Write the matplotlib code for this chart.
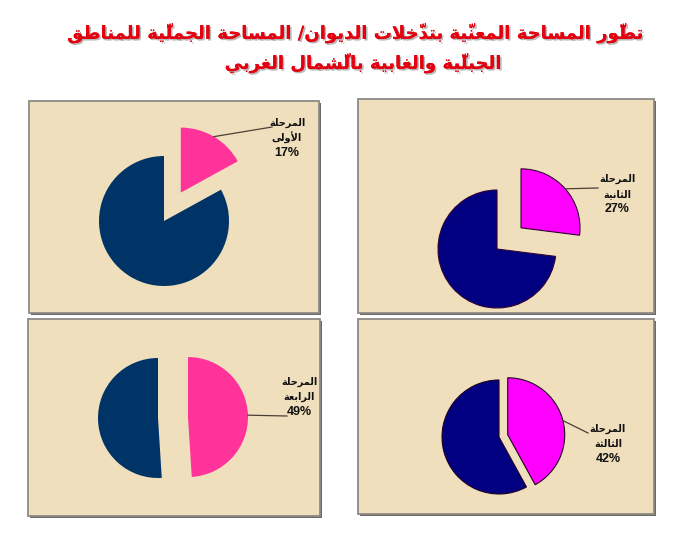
import numpy as np
import matplotlib
matplotlib.use('Agg')
import matplotlib.pyplot as plt
import matplotlib.patheffects as pe
from matplotlib.patches import Rectangle

# data
title_lines = ['تطوّر المساحة المعنيّة بتدخّلات الديوان/ المساحة الجمليّة للمناطق',
               'الجبليّة والغابية بالشّمال الغربي']
stage_first = ['المرحلة', 'المرحلة', 'المرحلة', 'المرحلة']
stage_second = ['الأولى', 'الثانية', 'الرابعة', 'الثالثة']
shares = [17, 27, 49, 42]

# styles per panel: (slice colour, rest colour, edge colour)
styles = [('#FF3399', '#003366', 'none'),
          ('#FF00FF', '#000080', '#330033'),
          ('#FF3399', '#003366', 'none'),
          ('#FF00FF', '#000080', '#220022')]

W, H = 681, 543
# panel boxes in pixels (x0, y0, x1, y1), pie centre, radius, explode
boxes = [(29, 101, 319, 313), (358, 99, 654, 313),
         (28, 319, 320, 516), (358, 319, 654, 514)]
centres = [(164, 221), (497, 249), (158, 418), (499, 437)]
radii = [65, 59, 60, 57]
explodes = [33, 32, 30, 9]
label_pos = [(287, 123), (617, 179), (299, 382), (608, 429)]
leader_end = [(272, 127), (598, 188), (287, 416), (588, 433)]

# --- minimal arabic shaping (matplotlib has no complex text layout) ---
FORMS = {
    '\u0623': ('\uFE83', '\uFE84', None, None),
    '\u0627': ('\uFE8D', '\uFE8E', None, None),
    '\u0628': ('\uFE8F', '\uFE90', '\uFE91', '\uFE92'),
    '\u0629': ('\uFE93', '\uFE94', None, None),
    '\u062A': ('\uFE95', '\uFE96', '\uFE97', '\uFE98'),
    '\u062B': ('\uFE99', '\uFE9A', '\uFE9B', '\uFE9C'),
    '\u062C': ('\uFE9D', '\uFE9E', '\uFE9F', '\uFEA0'),
    '\u062D': ('\uFEA1', '\uFEA2', '\uFEA3', '\uFEA4'),
    '\u062E': ('\uFEA5', '\uFEA6', '\uFEA7', '\uFEA8'),
    '\u062F': ('\uFEA9', '\uFEAA', None, None),
    '\u0631': ('\uFEAD', '\uFEAE', None, None),
    '\u0633': ('\uFEB1', '\uFEB2', '\uFEB3', '\uFEB4'),
    '\u0634': ('\uFEB5', '\uFEB6', '\uFEB7', '\uFEB8'),
    '\u0637': ('\uFEC1', '\uFEC2', '\uFEC3', '\uFEC4'),
    '\u0639': ('\uFEC9', '\uFECA', '\uFECB', '\uFECC'),
    '\u063A': ('\uFECD', '\uFECE', '\uFECF', '\uFED0'),
    '\u0642': ('\uFED5', '\uFED6', '\uFED7', '\uFED8'),
    '\u0644': ('\uFEDD', '\uFEDE', '\uFEDF', '\uFEE0'),
    '\u0645': ('\uFEE1', '\uFEE2', '\uFEE3', '\uFEE4'),
    '\u0646': ('\uFEE5', '\uFEE6', '\uFEE7', '\uFEE8'),
    '\u0648': ('\uFEED', '\uFEEE', None, None),
    '\u0649': ('\uFEEF', '\uFEF0', None, None),
    '\u064A': ('\uFEF1', '\uFEF2', '\uFEF3', '\uFEF4'),
}
LAM_ALEF = {'\u0627': ('\uFEFB', '\uFEFC'), '\u0623': ('\uFEF7', '\uFEF8')}
MARKS = set('\u064B\u064C\u064D\u064E\u064F\u0650\u0651\u0652')


def shape(text):
    clusters = []
    for ch in text:
        if ch in MARKS and clusters:
            clusters[-1][1] += ch
        else:
            clusters.append([ch, ''])
    bases = [c[0] for c in clusters]
    n = len(bases)
    out = []
    i = 0
    while i < n:
        b = bases[i]
        prev_joins = i > 0 and bases[i - 1] in FORMS and FORMS[bases[i - 1]][2] is not None
        if i > 0 and bases[i - 1] == '\u0644' and b in LAM_ALEF:
            prev_joins = False
        if b == '\u0644' and i + 1 < n and bases[i + 1] in LAM_ALEF:
            iso, fin = LAM_ALEF[bases[i + 1]]
            out.append((fin if prev_joins else iso, clusters[i][1] + clusters[i + 1][1]))
            i += 2
            continue
        if b in FORMS:
            f = FORMS[b]
            next_joins = f[2] is not None and i + 1 < n and bases[i + 1] in FORMS
            if prev_joins and next_joins:
                g = f[3]
            elif prev_joins:
                g = f[1]
            elif next_joins:
                g = f[2]
            else:
                g = f[0]
            out.append((g, clusters[i][1]))
        else:
            out.append((b, clusters[i][1]))
        i += 1
    return ''.join(g + m for g, m in reversed(out))


fig = plt.figure(figsize=(W / 100, H / 100), dpi=100)
fig.patch.set_facecolor('white')
ax = fig.add_axes([0, 0, 1, 1])

for k in range(4):
    x0, y0, x1, y1 = boxes[k]
    ax.add_patch(Rectangle((x0 + 1.5, H - y1 - 1.5), x1 - x0, y1 - y0,
                           facecolor='#6E6A66', edgecolor='none', zorder=0))
    ax.add_patch(Rectangle((x0, H - y1), x1 - x0, y1 - y0, facecolor='#EFDFBD',
                           edgecolor='#8E8A86', linewidth=1.3, zorder=0.5))

    slice_c, rest_c, edge_c = styles[k]
    cx, cy = centres[k]
    wedges, _ = ax.pie([shares[k], 100 - shares[k]], colors=[slice_c, rest_c],
                       startangle=90, counterclock=False, radius=radii[k],
                       center=(cx, H - cy), explode=[explodes[k], 0],
                       wedgeprops=dict(edgecolor=edge_c, linewidth=0.8))
    w = wedges[0]
    tm = np.deg2rad((w.theta1 + w.theta2) / 2)
    sx = w.center[0] + w.r * np.cos(tm)
    sy = w.center[1] + w.r * np.sin(tm)
    ex, ey = leader_end[k]
    ax.plot([sx, ex], [sy, H - ey], color='#4A4036', linewidth=0.9, zorder=3)

    lx, ly = label_pos[k]
    ax.text(lx, H - ly, shape(stage_first[k]), ha='center', va='center',
            fontsize=7, fontweight='bold', family=['DejaVu Sans'], color='#111111')
    ax.text(lx, H - ly - 15, shape(stage_second[k]), ha='center', va='center',
            fontsize=7, fontweight='bold', family=['DejaVu Sans'], color='#111111')
    ax.text(lx, H - ly - 30, f'{shares[k]}%', ha='center', va='center',
            fontsize=9, fontweight='bold', family=['Liberation Sans'], color='#111111')

shadow = [pe.withSimplePatchShadow(offset=(1.2, -1.2), shadow_rgbFace='#9A9A9A', alpha=0.7),
          pe.Normal()]
title_x = [355, 363]
for j, line in enumerate(title_lines):
    ax.text(title_x[j], H - 33 - 30 * j, shape(line), ha='center', va='center',
            fontsize=13, fontweight='bold', family=['DejaVu Sans'], color='#E3000F',
            path_effects=shadow)

ax.set_xlim(0, W)
ax.set_ylim(0, H)
ax.set_aspect('auto')
ax.axis('off')

fig.savefig('out.png', dpi=100, facecolor='white')
